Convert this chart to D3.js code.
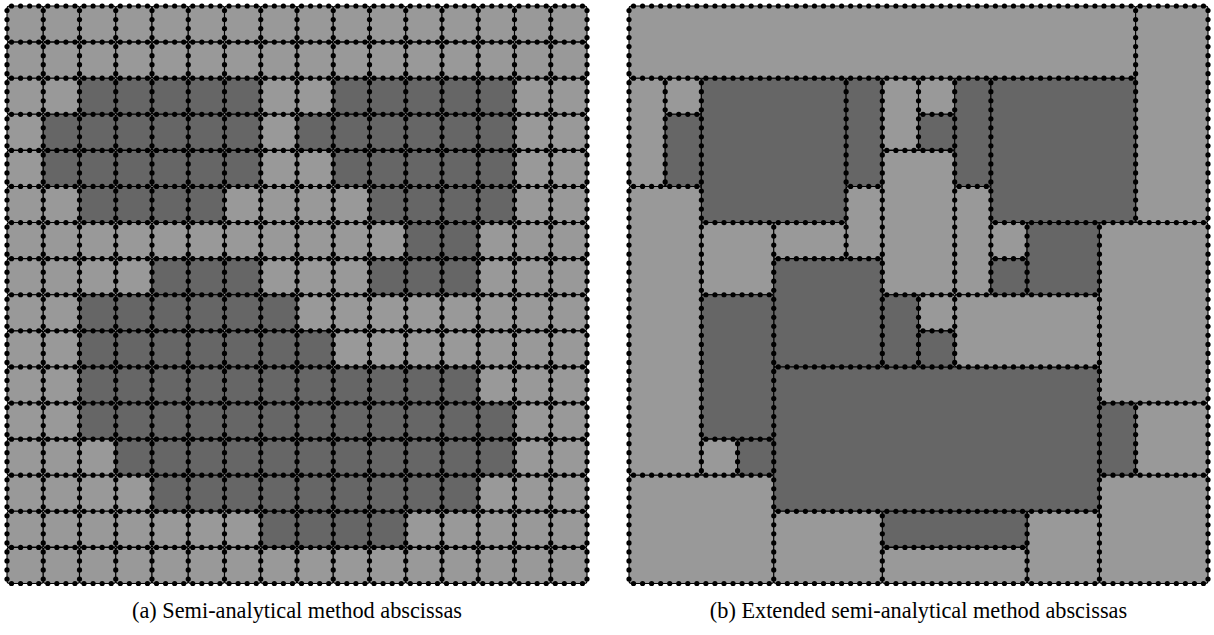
<!DOCTYPE html>
<html>
<head>
<meta charset="utf-8">
<script src="https://cdn.jsdelivr.net/npm/d3@7"></script>
<style>
  body { margin: 0; background: #fff; }
  svg { display: block; }
</style>
</head>
<body>
<svg id="fig" width="1214" height="635"></svg>
<script>
// Domain is a 16 x 16 cell square; every boundary lies on that lattice.
const gridSize = 16;
// Integration abscissas placed on each boundary segment, per cell length.
const pointsPerCell = 4;

// (a) regular grid: phase of each cell, row by row from the top (1 = inclusion).
const phaseRows = [
  "0000000000000000",
  "0000000000000000",
  "0011111001111100",
  "0111111011111100",
  "0111111001111100",
  "0011110000111100",
  "0000000000011000",
  "0000111000111000",
  "0011111100000000",
  "0011111110000000",
  "0011111111111000",
  "0011111111111100",
  "0001111111111100",
  "0000111111111000",
  "0000000111100000",
  "0000000000000000"
];

// (b) merged blocks: [col0, col1, row0, row1, phase] in cell units.
const blocks = [
  [0, 14, 0, 2, 0], [14, 16, 0, 6, 0],
  [0, 1, 2, 5, 0], [1, 2, 2, 3, 0], [1, 2, 3, 5, 1],
  [2, 6, 2, 6, 1], [6, 7, 2, 5, 1], [6, 7, 5, 7, 0],
  [7, 8, 2, 4, 0], [8, 9, 2, 3, 0], [8, 9, 3, 4, 1],
  [7, 9, 4, 8, 0], [9, 10, 2, 5, 1], [9, 10, 5, 8, 0],
  [10, 14, 2, 6, 1], [10, 11, 6, 7, 0], [10, 11, 7, 8, 1],
  [11, 13, 6, 8, 1], [13, 16, 6, 11, 0],
  [0, 2, 5, 13, 0], [2, 4, 6, 8, 0], [4, 6, 6, 7, 0],
  [4, 7, 7, 10, 1], [2, 4, 8, 12, 1], [2, 3, 12, 13, 0], [3, 4, 12, 13, 1],
  [0, 4, 13, 16, 0], [4, 13, 10, 14, 1],
  [8, 9, 8, 9, 0], [8, 9, 9, 10, 1], [9, 13, 8, 10, 0], [7, 8, 8, 10, 1],
  [13, 14, 11, 13, 1], [14, 16, 11, 13, 0], [13, 16, 13, 16, 0],
  [11, 13, 14, 16, 0], [7, 11, 14, 15, 1], [7, 11, 15, 16, 0], [4, 7, 14, 16, 0]
];

const captions = [
  "(a) Semi-analytical method abscissas",
  "(b) Extended semi-analytical method abscissas"
];

const phaseColor = d3.scaleOrdinal().domain([0, 1]).range(["#999999", "#666666"]);

const svg = d3.select("#fig");

// Cells of the regular grid as block records, same shape as `blocks`.
const gridBlocks = phaseRows.flatMap((row, r) =>
  row.split("").map((c, k) => [k, k + 1, r, r + 1, +c]));

const panels = [
  { cells: gridBlocks, x: [7, 587], y: [6, 583.5], caption: captions[0] },
  { cells: blocks, x: [629, 1208], y: [6, 583.5], caption: captions[1] }
];

// Abscissas on every edge of a block, midpoints of equal sub-segments.
function edgePoints(b) {
  const [x0, x1, y0, y1] = b;
  const pts = [];
  const along = (a, c) => d3.range((c - a) * pointsPerCell).map(i => a + (i + 0.5) / pointsPerCell);
  along(x0, x1).forEach(t => { pts.push([t, y0]); pts.push([t, y1]); });
  along(y0, y1).forEach(t => { pts.push([x0, t]); pts.push([x1, t]); });
  return pts;
}

panels.forEach(p => {
  const x = d3.scaleLinear().domain([0, gridSize]).range(p.x);
  const y = d3.scaleLinear().domain([0, gridSize]).range(p.y);
  const g = svg.append("g");

  g.selectAll("rect.block")
    .data(p.cells)
    .join("rect")
    .attr("class", "block")
    .attr("x", d => x(d[0]))
    .attr("y", d => y(d[2]))
    .attr("width", d => x(d[1]) - x(d[0]))
    .attr("height", d => y(d[3]) - y(d[2]))
    .attr("rx", 2.5)
    .attr("fill", d => phaseColor(d[4]))
    .attr("stroke", "#000")
    .attr("stroke-width", 1.1);

  const seen = new Set();
  const pts = [];
  p.cells.forEach(b => edgePoints(b).forEach(q => {
    const key = q[0] + "," + q[1];
    if (!seen.has(key)) { seen.add(key); pts.push(q); }
  }));

  g.selectAll("circle")
    .data(pts)
    .join("circle")
    .attr("cx", d => x(d[0]))
    .attr("cy", d => y(d[1]))
    .attr("r", 2.6)
    .attr("fill", "#000");

  svg.append("text")
    .attr("x", (p.x[0] + p.x[1]) / 2)
    .attr("y", 618)
    .attr("text-anchor", "middle")
    .attr("font-family", "'Liberation Serif', 'DejaVu Serif', serif")
    .attr("font-size", 22.3)
    .attr("fill", "#000")
    .text(p.caption);
});
</script>
</body>
</html>
